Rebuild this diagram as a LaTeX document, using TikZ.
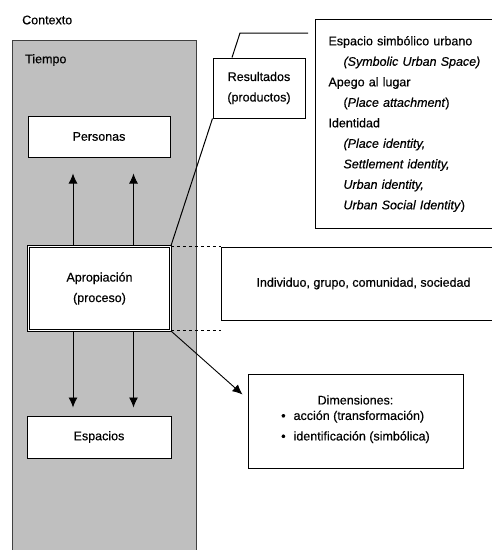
\documentclass[tikz,border=0pt]{standalone}
\usepackage{fontspec}
\setmainfont{Liberation Sans}[FakeBold=0.4, ItalicFeatures={FakeBold=0.4}]
\usetikzlibrary{calc, positioning, arrows.meta}

\begin{document}
\begin{tikzpicture}[
  x=1pt, y=-1pt,
  font=\fontsize{12.5}{20.5}\selectfont,
  mybox/.style={
    draw,
    fill=white,
    rectangle,
    line width=1pt,
    align=center,
    inner sep=0pt
    },
  myarrow/.style={-{Latex[length=10pt,width=9pt]}, line width=0.9pt}
]
\clip (0,0) rectangle (492,550);

% contexto y tiempo
\node[anchor=west, inner sep=0pt] (contexto) at (22,20) {Contexto};
\node[draw=black!75, fill=black!25, line width=1.3pt, minimum width=184,
  minimum height=530, anchor=north west, inner sep=0pt] (tiempo) at (12,40) {};
\node[anchor=west, inner sep=0pt] (tiempolabel) at (25,60) {Tiempo};

\node[mybox, minimum width=142, minimum height=41] (personas) at (99,136.5) {Personas};

\node[mybox, double, double distance=1.5pt, line width=0.7pt,
  minimum width=142, minimum height=84] (aprop) at (99.5,288.5)
  {Apropiación\\(proceso)};

\node[mybox, minimum width=144, minimum height=42] (espacios) at (99,437) {Espacios};

\node[mybox, minimum width=92, minimum height=60] (res) at (259,88)
  {Resultados\\(productos)};

\node[mybox, anchor=north west, minimum height=209, text width=170,
  inner xsep=13pt, align=left] (simbolico) at (315,19)
  {
  Espacio simbólico urbano\\
  \hspace*{15pt}\textit{(Symbolic Urban Space)}\\
  Apego al lugar\\
  \hspace*{15pt}(\textit{Place attachment})\\
  Identidad\\
  \hspace*{15pt}\textit{(Place identity,}\\
  \hspace*{15pt}\textit{Settlement identity,}\\
  \hspace*{15pt}\textit{Urban identity,}\\
  \hspace*{15pt}\textit{Urban Social Identity})
  };

\node[mybox, anchor=west, minimum width=284, minimum height=73] (individuo) at (221,283.5)
  {Individuo, grupo, comunidad, sociedad};

\node[mybox, minimum width=215, minimum height=94] (dim) at (355.5,421)
  {
  Dimensiones:\\
  \begin{tabular}{@{}l@{}}
  \textbullet\hspace{8pt}acción (transformación)\\
  \textbullet\hspace{8pt}identificación (simbólica)
  \end{tabular}
  };

% flechas
\coordinate (colA) at (73,0);
\coordinate (colB) at (133.5,0);
\draw[myarrow] (colA |- aprop.north) -- ($(colA |- personas.south)+(0,16)$);
\draw[myarrow] (colB |- aprop.north) -- ($(colB |- personas.south)+(0,16)$);
\draw[myarrow] (colA |- aprop.south) -- ($(colA |- espacios.north)+(0,-8)$);
\draw[myarrow] (colB |- aprop.south) -- ($(colB |- espacios.north)+(0,-8)$);

\draw[dashed, line width=1pt] (aprop.north east) -- (aprop.north east -| individuo.west);
\draw[dashed, line width=1pt] (aprop.south east) -- (aprop.south east -| individuo.west);

\draw[line width=1pt] (aprop.north east) -- (res.south west);
\coordinate (bend) at (240,33);
\coordinate (tail) at (308,33);
\draw[line width=1pt] ([xshift=-27pt]res.north) -- (bend) -- (tail);

\coordinate (dimtip) at ($(dim.north west)+(-5,21)$);
\draw[myarrow] (aprop.south east) -- (dimtip);

\end{tikzpicture}
\end{document}
